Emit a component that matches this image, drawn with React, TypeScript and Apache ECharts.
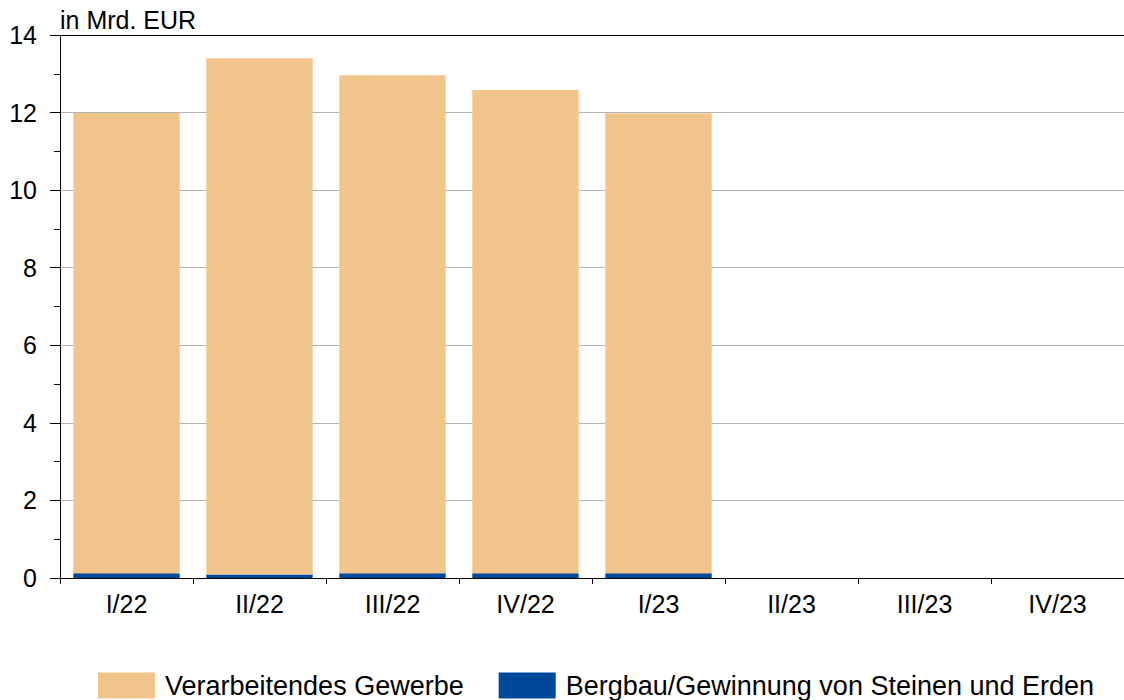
import React, { useEffect, useRef } from "react";
import * as echarts from "echarts";

const categories = ["I/22", "II/22", "III/22", "IV/22", "I/23", "II/23", "III/23", "IV/23"];
const verarbeitendes = [11.87, 13.31, 12.84, 12.46, 11.86, null, null, null];
const bergbau = [0.12, 0.09, 0.12, 0.12, 0.12, null, null, null];
const yTicks = { min: 0, max: 14, interval: 2 };

const ORANGE = "#F1C48C";
const BLUE = "#00489A";
const FONT = "Liberation Sans, Arial, sans-serif";

export default function App() {
  const ref = useRef<HTMLDivElement>(null);
  useEffect(() => {
    document.body.style.margin = "0";
    const chart = echarts.init(ref.current!, null, { renderer: "svg" });
    const gridColors = ["#b4b4b4", "#b4b4b4", "#b4b4b4", "#b4b4b4", "#b4b4b4", "#b4b4b4", "#b4b4b4", "#000000"];
    chart.setOption({
      animation: false,
      textStyle: { fontFamily: FONT, color: "#000" },
      grid: { left: 60, right: 0, top: 35, bottom: 122 },
      graphic: [
        {
          type: "text",
          left: 60,
          top: 7,
          style: { text: "in Mrd. EUR", fontSize: 25, fontFamily: FONT, fill: "#000" },
        },
      ],
      legend: {
        data: ["Verarbeitendes Gewerbe", "Bergbau/Gewinnung von Steinen und Erden"],
        left: 98,
        top: 672,
        padding: 0,
        itemWidth: 57,
        itemHeight: 26,
        itemGap: 35,
        icon: "rect",
        textStyle: { fontSize: 27, fontFamily: FONT, color: "#000", padding: [0, 0, 0, 5] },
      },
      xAxis: {
        type: "category",
        data: categories,
        axisLine: { lineStyle: { color: "#000", width: 1 } },
        axisTick: { show: true, alignWithLabel: false, length: 6, lineStyle: { color: "#000" } },
        axisLabel: { fontSize: 25, color: "#000", margin: 13, fontFamily: FONT },
        splitLine: { show: false },
      },
      yAxis: {
        type: "value",
        min: yTicks.min,
        max: yTicks.max,
        interval: yTicks.interval,
        axisLine: { show: true, lineStyle: { color: "#000", width: 1 } },
        axisTick: { show: true, length: 10, lineStyle: { color: "#000" } },
        minorTick: { show: true, splitNumber: 2, length: 6, lineStyle: { color: "#000" } },
        axisLabel: { fontSize: 25, color: "#000", margin: 23, fontFamily: FONT },
        splitLine: { show: true, lineStyle: { color: gridColors, width: 1 } },
      },
      series: [
        {
          name: "Bergbau/Gewinnung von Steinen und Erden",
          type: "bar",
          stack: "total",
          data: bergbau,
          itemStyle: { color: BLUE },
          barCategoryGap: "20%",
        },
        {
          name: "Verarbeitendes Gewerbe",
          type: "bar",
          stack: "total",
          data: verarbeitendes,
          itemStyle: { color: ORANGE },
          barCategoryGap: "20%",
        },
      ],
    });
    return () => chart.dispose();
  }, []);
  return <div ref={ref} style={{ width: 1124, height: 700 }} />;
}
